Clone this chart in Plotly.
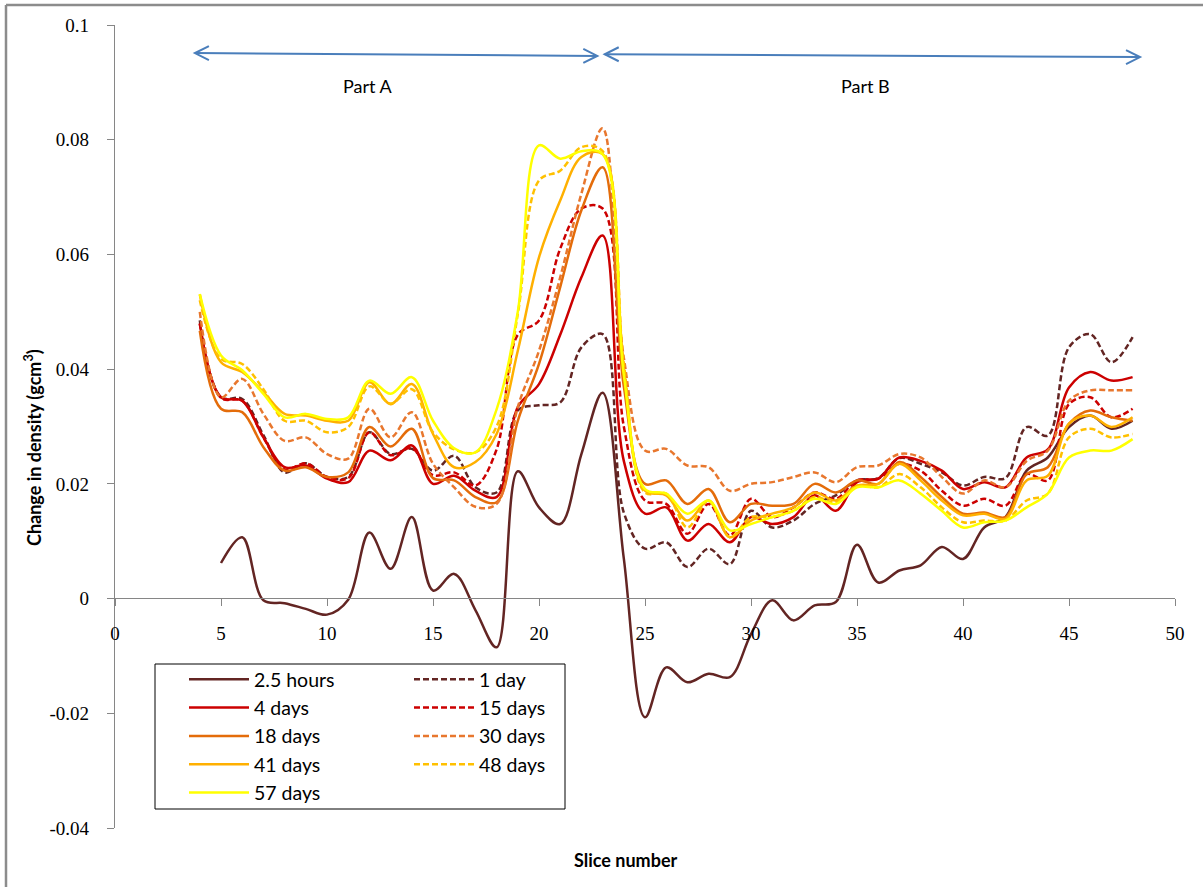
import plotly.graph_objects as go

# ---------------- data ----------------
slices = list(range(4, 49))          # slice numbers 4..48
slices_short = list(range(5, 49))    # 2.5 hours series starts at slice 5

h2_5 = [0.0062, 0.0107, -0.0003, -0.0008, -0.0018, -0.0028, -0.0002, 0.0115, 0.0052, 0.0142,
        0.0014, 0.0043, -0.0020, -0.0085, 0.0222, 0.0159, 0.0130, 0.0252, 0.0359, 0.0070,
        -0.0207, -0.0120, -0.0146, -0.0131, -0.0137, -0.0062, -0.0003, -0.0038, -0.0012, -0.0006,
        0.0094, 0.0028, 0.0049, 0.0058, 0.0090, 0.0069, 0.0124, 0.0142, 0.0223, 0.0246,
        0.0299, 0.0319, 0.0296, 0.0310]

d1 = [0.0485, 0.0351, 0.0348, 0.0285, 0.0220, 0.0236, 0.0212, 0.0212, 0.0290, 0.0252,
      0.0261, 0.0223, 0.0249, 0.0194, 0.0185, 0.0328, 0.0337, 0.0342, 0.0438, 0.0461,
      0.0150, 0.0087, 0.0098, 0.0055, 0.0087, 0.0060, 0.0153, 0.0124, 0.0136, 0.0165,
      0.0180, 0.0206, 0.0210, 0.0245, 0.0235, 0.0220, 0.0197, 0.0212, 0.0210, 0.0299,
      0.0284, 0.0438, 0.0461, 0.0412, 0.0456]

d4 = [0.0479, 0.0351, 0.0345, 0.0281, 0.0229, 0.0232, 0.0209, 0.0203, 0.0258, 0.0241,
      0.0267, 0.0200, 0.0214, 0.0188, 0.0177, 0.0334, 0.0374, 0.0460, 0.0560, 0.0633,
      0.0240, 0.0148, 0.0159, 0.0101, 0.0130, 0.0098, 0.0142, 0.0130, 0.0142, 0.0180,
      0.0153, 0.0203, 0.0209, 0.0246, 0.0240, 0.0223, 0.0191, 0.0203, 0.0194, 0.0246,
      0.0260, 0.0368, 0.0395, 0.0380, 0.0386]

d15 = [0.0480, 0.0350, 0.0345, 0.0281, 0.0225, 0.0236, 0.0212, 0.0210, 0.0290, 0.0250,
       0.0262, 0.0215, 0.0220, 0.0197, 0.0260, 0.0460, 0.0485, 0.0610, 0.0680, 0.0680,
       0.0300, 0.0171, 0.0165, 0.0113, 0.0165, 0.0110, 0.0174, 0.0142, 0.0159, 0.0185,
       0.0174, 0.0206, 0.0209, 0.0235, 0.0223, 0.0188, 0.0162, 0.0174, 0.0162, 0.0217,
       0.0206, 0.0339, 0.0351, 0.0316, 0.0331]

d18 = [0.0467, 0.0331, 0.0325, 0.0264, 0.0223, 0.0229, 0.0212, 0.0220, 0.0299, 0.0265,
       0.0296, 0.0210, 0.0206, 0.0177, 0.0168, 0.0310, 0.0409, 0.0543, 0.0677, 0.0752,
       0.0370, 0.0200, 0.0206, 0.0165, 0.0191, 0.0133, 0.0165, 0.0162, 0.0165, 0.0200,
       0.0185, 0.0206, 0.0200, 0.0238, 0.0212, 0.0177, 0.0148, 0.0150, 0.0142, 0.0217,
       0.0229, 0.0305, 0.0328, 0.0316, 0.0310]

d30 = [0.0500, 0.0351, 0.0383, 0.0322, 0.0275, 0.0281, 0.0252, 0.0244, 0.0331, 0.0281,
       0.0325, 0.0235, 0.0194, 0.0160, 0.0165, 0.0334, 0.0432, 0.0560, 0.0706, 0.0820,
       0.0420, 0.0258, 0.0261, 0.0232, 0.0229, 0.0188, 0.0200, 0.0203, 0.0212, 0.0220,
       0.0203, 0.0229, 0.0232, 0.0252, 0.0246, 0.0212, 0.0183, 0.0206, 0.0194, 0.0240,
       0.0258, 0.0345, 0.0363, 0.0363, 0.0363]

d41 = [0.0530, 0.0412, 0.0395, 0.0360, 0.0322, 0.0319, 0.0310, 0.0310, 0.0377, 0.0339,
       0.0374, 0.0287, 0.0229, 0.0238, 0.0287, 0.0432, 0.0595, 0.0694, 0.0770, 0.0775,
       0.0400, 0.0188, 0.0180, 0.0136, 0.0171, 0.0107, 0.0136, 0.0148, 0.0159, 0.0185,
       0.0171, 0.0197, 0.0200, 0.0235, 0.0206, 0.0171, 0.0145, 0.0148, 0.0139, 0.0206,
       0.0214, 0.0305, 0.0319, 0.0299, 0.0316]

d48 = [0.0520, 0.0418, 0.0409, 0.0365, 0.0310, 0.0310, 0.0290, 0.0299, 0.0370, 0.0340,
       0.0365, 0.0290, 0.0260, 0.0255, 0.0300, 0.0496, 0.0729, 0.0746, 0.0787, 0.0780,
       0.0410, 0.0185, 0.0183, 0.0124, 0.0171, 0.0107, 0.0142, 0.0142, 0.0153, 0.0177,
       0.0168, 0.0197, 0.0194, 0.0217, 0.0194, 0.0159, 0.0133, 0.0136, 0.0136, 0.0171,
       0.0183, 0.0281, 0.0296, 0.0281, 0.0287]

d57 = [0.0531, 0.0424, 0.0398, 0.0357, 0.0316, 0.0322, 0.0313, 0.0316, 0.0380, 0.0357,
       0.0386, 0.0310, 0.0262, 0.0255, 0.0330, 0.0500, 0.0790, 0.0767, 0.0780, 0.0775,
       0.0390, 0.0191, 0.0183, 0.0148, 0.0171, 0.0119, 0.0130, 0.0142, 0.0153, 0.0174,
       0.0165, 0.0194, 0.0194, 0.0206, 0.0183, 0.0153, 0.0124, 0.0133, 0.0136, 0.0159,
       0.0183, 0.0246, 0.0258, 0.0258, 0.0278]

series_names = ["2.5 hours", "1 day", "4 days", "15 days", "18 days",
                "30 days", "41 days", "48 days", "57 days"]
series_x = [slices_short, slices, slices, slices, slices, slices, slices, slices, slices]
series_y = [h2_5, d1, d4, d15, d18, d30, d41, d48, d57]
series_colors = ["#632523", "#632523", "#cc0000", "#cc0000", "#e46c0a",
                 "#e8772e", "#ffb000", "#ffc000", "#ffff00"]
series_dash = ["solid", "6px,3px", "solid", "6px,3px", "solid",
               "6px,3px", "solid", "6px,3px", "solid"]
series_legend = ["legend", "legend2", "legend", "legend2", "legend",
                 "legend2", "legend", "legend2", "legend"]

x_ticks = [0, 5, 10, 15, 20, 25, 30, 35, 40, 45, 50]
x_tick_text = ["0", "5", "10", "15", "20", "25", "30", "35", "40", "45", "50"]
y_ticks = [-0.04, -0.02, 0, 0.02, 0.04, 0.06, 0.08, 0.1]
y_tick_text = ["-0.04", "-0.02", "0", "0.02", "0.04", "0.06", "0.08", "0.1"]

part_labels = ["Part A", "Part B"]
part_label_x = [11.9, 35.4]
part_label_y = 0.0893
arrows = [((3.77, 0.0951), (22.75, 0.0946)), ((23.1, 0.0949), (48.35, 0.0944))]

# ---------------- figure ----------------
fig = go.Figure()
for name, xs, ys, col, dash, leg in zip(series_names, series_x, series_y,
                                        series_colors, series_dash, series_legend):
    fig.add_trace(go.Scatter(
        x=xs, y=ys, name=name, mode="lines",
        line=dict(color=col, width=2.5, dash=dash, shape="spline", smoothing=1.0),
        legend=leg, legendgroup=name, hoverinfo="skip"))

TICK_FONT = dict(family="Liberation Serif", size=19, color="black")
TEXT_FONT = "Lato"
AX_COLOR = "#868686"

fig.update_layout(
    width=1203, height=887,
    margin=dict(l=115, r=28, t=25, b=59),
    paper_bgcolor="white", plot_bgcolor="white",
    showlegend=True,
    xaxis=dict(range=[0, 50], anchor="free", position=230 / 803,
               showline=True, linecolor=AX_COLOR, linewidth=1.2,
               ticks="outside", ticklen=7, tickcolor=AX_COLOR, tickwidth=1.2,
               tickvals=x_ticks, ticktext=x_tick_text, tickfont=TICK_FONT,
               ticklabelstandoff=11, showgrid=False, zeroline=False),
    yaxis=dict(range=[-0.04, 0.1], showline=True, linecolor=AX_COLOR, linewidth=1.2,
               ticks="outside", ticklen=7, tickcolor=AX_COLOR, tickwidth=1.2,
               tickvals=y_ticks, ticktext=y_tick_text, tickfont=TICK_FONT,
               ticklabelstandoff=14, showgrid=False, zeroline=False),
    legend=dict(x=(184 - 115) / 1060, y=(828 - 660) / 803, xanchor="left", yanchor="top",
                bgcolor="rgba(0,0,0,0)", borderwidth=0, itemwidth=60,
                font=dict(family=TEXT_FONT, size=19.5, color="black"), tracegroupgap=0),
    legend2=dict(x=(409 - 115) / 1060, y=(828 - 660) / 803, xanchor="left", yanchor="top",
                 bgcolor="rgba(0,0,0,0)", borderwidth=0, itemwidth=60,
                 font=dict(family=TEXT_FONT, size=19.5, color="black"), tracegroupgap=0),
)

shapes = []
# outer chart border (top and left visible)
shapes.append(dict(type="line", xref="paper", yref="paper",
                   x0=(6 - 115) / 1060, x1=(1210 - 115) / 1060,
                   y0=(828 - 5) / 803, y1=(828 - 5) / 803,
                   line=dict(color="#8c8c8c", width=2.5)))
shapes.append(dict(type="line", xref="paper", yref="paper",
                   x0=(6 - 115) / 1060, x1=(6 - 115) / 1060,
                   y0=(828 - 5) / 803, y1=(828 - 895) / 803,
                   line=dict(color="#8c8c8c", width=2.5)))
# legend box
shapes.append(dict(type="rect", xref="paper", yref="paper",
                   x0=(155 - 115) / 1060, x1=(565 - 115) / 1060,
                   y0=(828 - 809) / 803, y1=(828 - 664) / 803,
                   line=dict(color="black", width=1), fillcolor="rgba(0,0,0,0)"))
# double arrows
HX = 14 / 21.2
HY = 7 / 5735
for (xa, ya), (xb, yb) in arrows:
    style = dict(color="#4a7ebb", width=2)
    shapes.append(dict(type="line", xref="x", yref="y", x0=xa, y0=ya, x1=xb, y1=yb, line=style))
    for sgn, px_, py_ in [(1, xa, ya), (-1, xb, yb)]:
        shapes.append(dict(type="path", xref="x", yref="y",
                           path=f"M{px_ + sgn * HX},{py_ + HY} L{px_},{py_} L{px_ + sgn * HX},{py_ - HY}",
                           line=style))
fig.update_layout(shapes=shapes)

annotations = []
for lab, lx in zip(part_labels, part_label_x):
    annotations.append(dict(text=lab, x=lx, y=part_label_y, xref="x", yref="y",
                            xanchor="center", yanchor="middle",
                            showarrow=False, font=dict(family=TEXT_FONT, size=18, color="black")))
annotations.append(dict(text="<b>Change in density (gcm<sup>3</sup>)</b>",
                        x=(33 - 115) / 1060, y=(828 - 448) / 803, xref="paper", yref="paper",
                        xanchor="center", yanchor="middle",
                        textangle=-90, showarrow=False,
                        font=dict(family=TEXT_FONT, size=18, color="black")))
annotations.append(dict(text="<b>Slice number</b>",
                        x=(625 - 115) / 1060, y=(828 - 860) / 803, xref="paper", yref="paper",
                        xanchor="center", yanchor="middle",
                        showarrow=False, font=dict(family=TEXT_FONT, size=18, color="black")))
fig.update_layout(annotations=annotations)

fig.write_html("out.html")
